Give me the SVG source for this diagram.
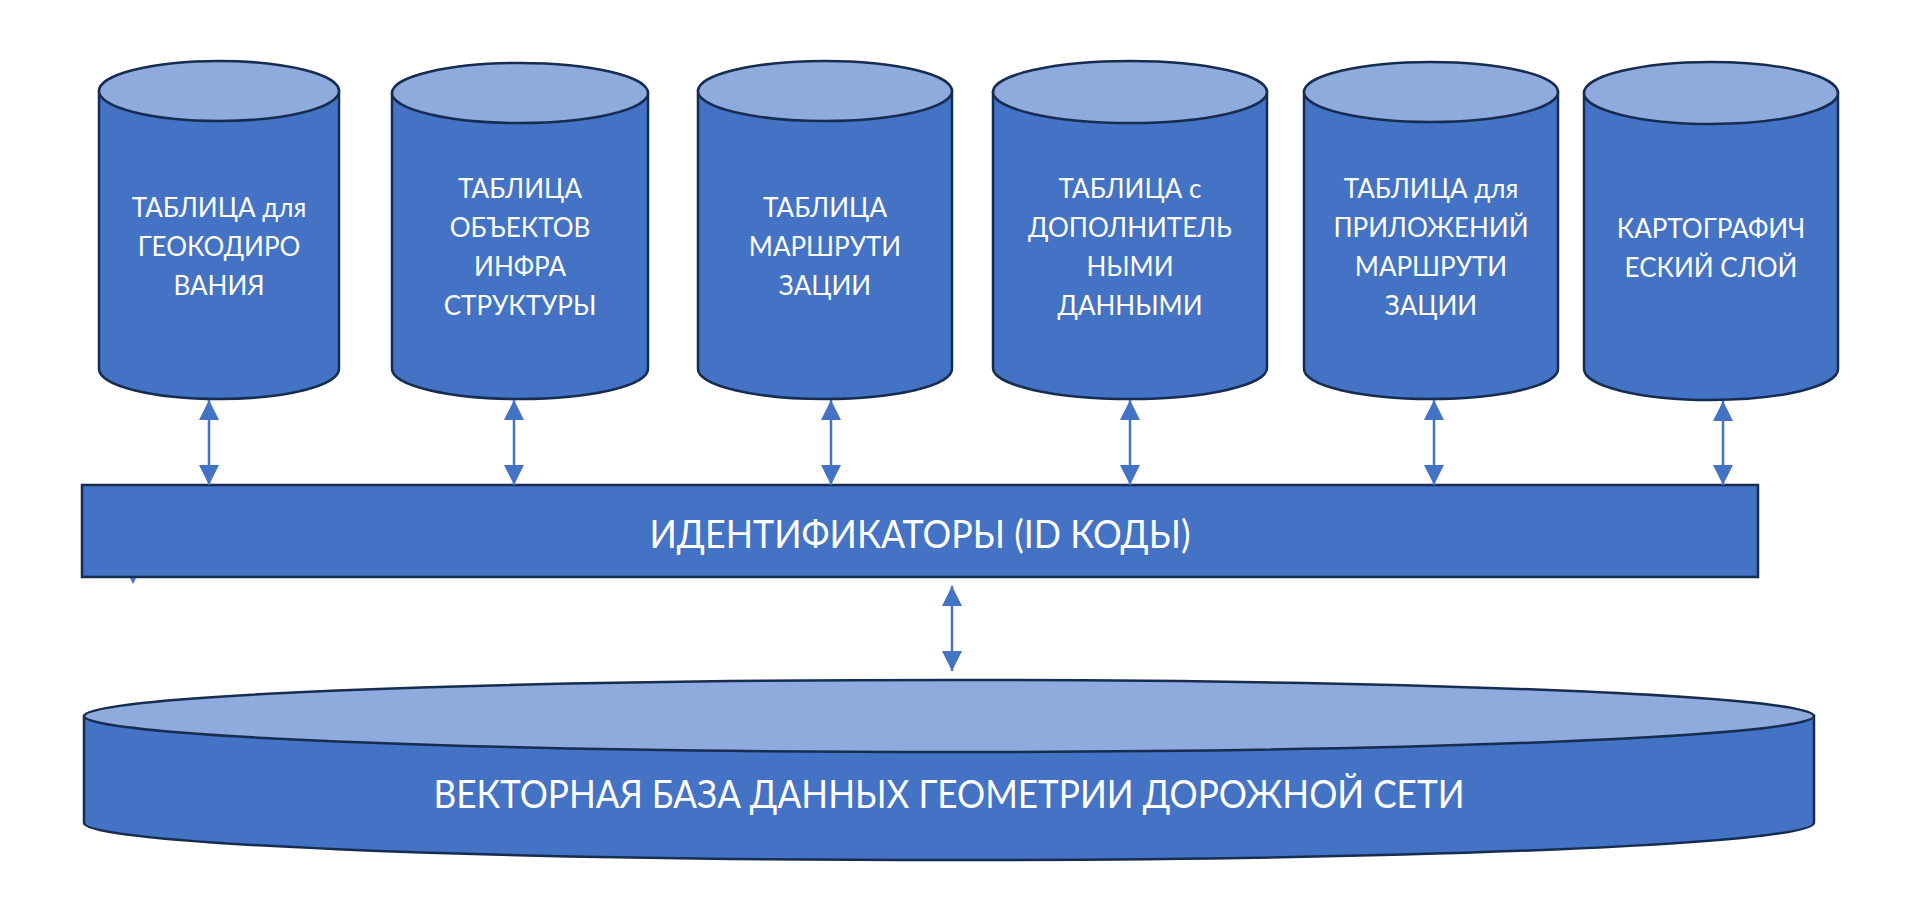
<svg xmlns="http://www.w3.org/2000/svg" width="1920" height="921" viewBox="0 0 1920 921">
<style>
.body{fill:#4472C4;stroke:#172C51;stroke-width:2.5}
.top{fill:#8FAADC;stroke:#172C51;stroke-width:2.5}
.lbl{font-family:Lato,"Open Sans","Noto Sans",sans-serif;fill:#FFFFFF;text-anchor:middle}
.small{font-size:26px}
.big{font-size:38px}
.conn{stroke:#4472C4;stroke-width:2.5;fill:none;marker-start:url(#ah);marker-end:url(#ah)}
</style>
<defs>
<marker id="ah" viewBox="0 0 20 20" refX="20" refY="10" markerWidth="20" markerHeight="20" markerUnits="userSpaceOnUse" orient="auto-start-reverse">
<path d="M0,0 L20,10 L0,20 Z" fill="#4472C4"/>
</marker>
</defs>
<rect width="1920" height="921" fill="#FFFFFF"/>

<g id="cyl1">
<path class="body" d="M99,91 L99,369 A120,30 0 0 0 339,369 L339,91 Z"/>
<ellipse class="top" cx="219" cy="91" rx="120" ry="30"/>
<text class="lbl small"><tspan x="219" y="217">ТАБЛИЦА для</tspan><tspan x="219" y="256">ГЕОКОДИРО</tspan><tspan x="219" y="295">ВАНИЯ</tspan></text>
</g>
<g id="cyl2">
<path class="body" d="M392,93 L392,369 A128,30 0 0 0 648,369 L648,93 Z"/>
<ellipse class="top" cx="520" cy="93" rx="128" ry="30"/>
<text class="lbl small"><tspan x="520" y="198">ТАБЛИЦА</tspan><tspan x="520" y="237">ОБЪЕКТОВ</tspan><tspan x="520" y="276">ИНФРА</tspan><tspan x="520" y="315">СТРУКТУРЫ</tspan></text>
</g>
<g id="cyl3">
<path class="body" d="M698,91 L698,369 A127,30 0 0 0 952,369 L952,91 Z"/>
<ellipse class="top" cx="825" cy="91" rx="127" ry="30"/>
<text class="lbl small"><tspan x="825" y="217">ТАБЛИЦА</tspan><tspan x="825" y="256">МАРШРУТИ</tspan><tspan x="825" y="295">ЗАЦИИ</tspan></text>
</g>
<g id="cyl4">
<path class="body" d="M993,92 L993,368 A137,31 0 0 0 1267,368 L1267,92 Z"/>
<ellipse class="top" cx="1130" cy="92" rx="137" ry="31"/>
<text class="lbl small"><tspan x="1130" y="198">ТАБЛИЦА с</tspan><tspan x="1130" y="237">ДОПОЛНИТЕЛЬ</tspan><tspan x="1130" y="276">НЫМИ</tspan><tspan x="1130" y="315">ДАННЫМИ</tspan></text>
</g>
<g id="cyl5">
<path class="body" d="M1304,92 L1304,369 A127,30 0 0 0 1558,369 L1558,92 Z"/>
<ellipse class="top" cx="1431" cy="92" rx="127" ry="30"/>
<text class="lbl small"><tspan x="1431" y="198">ТАБЛИЦА для</tspan><tspan x="1431" y="237">ПРИЛОЖЕНИЙ</tspan><tspan x="1431" y="276">МАРШРУТИ</tspan><tspan x="1431" y="315">ЗАЦИИ</tspan></text>
</g>
<g id="cyl6">
<path class="body" d="M1584,93 L1584,369 A127,31 0 0 0 1838,369 L1838,93 Z"/>
<ellipse class="top" cx="1711" cy="93" rx="127" ry="31"/>
<text class="lbl small"><tspan x="1711" y="238">КАРТОГРАФИЧ</tspan><tspan x="1711" y="277">ЕСКИЙ СЛОЙ</tspan></text>
</g>

<g id="ids">
<rect class="body" x="82" y="485" width="1676" height="92"/>
<text class="lbl big" x="920" y="548" textLength="541" lengthAdjust="spacingAndGlyphs">ИДЕНТИФИКАТОРЫ (ID КОДЫ)</text>
</g>

<g id="vectordb">
<path class="body" d="M84,716 L84,823 A865,37 0 0 0 1814,823 L1814,716 Z"/>
<ellipse class="top" cx="949" cy="716" rx="865" ry="36"/>
<text class="lbl big" x="949" y="808" textLength="1031" lengthAdjust="spacingAndGlyphs">ВЕКТОРНАЯ БАЗА ДАННЫХ ГЕОМЕТРИИ ДОРОЖНОЙ СЕТИ</text>
</g>

<g id="connectors">
<line class="conn" x1="209" y1="400" x2="209" y2="485"/>
<line class="conn" x1="514" y1="400" x2="514" y2="485"/>
<line class="conn" x1="831" y1="400" x2="831" y2="485"/>
<line class="conn" x1="1130" y1="400" x2="1130" y2="485"/>
<line class="conn" x1="1434" y1="400" x2="1434" y2="485"/>
<line class="conn" x1="1723" y1="401" x2="1723" y2="485"/>
<line class="conn" x1="952" y1="586" x2="952" y2="671"/>
<path d="M130,578 L136,578 L133,584 Z" fill="#4472C4"/>
</g>
</svg>
